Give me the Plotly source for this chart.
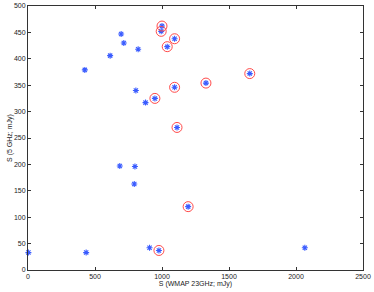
import plotly.graph_objects as go

# all sources: S(WMAP 23GHz) vs S(5 GHz)
x_all = [1000, 994, 1094, 1039, 1094, 947, 1112, 1328, 1655, 1195, 977,
         695, 715, 822, 613, 424, 805, 877, 685, 798, 793, 3, 434, 907, 2066]
y_all = [462, 452, 438, 423, 346, 325, 270, 354, 372, 120, 37,
         447, 430, 418, 406, 379, 340, 317, 197, 196, 163, 33, 33, 42, 42]
# circled subset
x_sel = [1000, 994, 1094, 1039, 1094, 947, 1112, 1328, 1655, 1195, 977]
y_sel = [462, 452, 438, 423, 346, 325, 270, 354, 372, 120, 37]

FONT = "Liberation Sans, Arial"

fig = go.Figure()
fig.add_trace(go.Scatter(x=x_all, y=y_all, mode="markers",
                         marker=dict(symbol="asterisk-open", size=5, color="#3a5cff",
                                     line=dict(width=1.1, color="#3a5cff")),
                         cliponaxis=False, showlegend=False))
fig.add_trace(go.Scatter(x=x_sel, y=y_sel, mode="markers",
                         marker=dict(symbol="circle-open", size=10, color="#ff4a4a",
                                     line=dict(width=1, color="#ff5050")),
                         cliponaxis=False, showlegend=False))

axis_common = dict(showgrid=False, zeroline=False, ticks="inside", ticklen=3,
                   tickwidth=1, tickcolor="#333", showline=True, linecolor="#333",
                   linewidth=1, mirror="ticks", automargin=False,
                   tickfont=dict(family=FONT, size=7, color="#222"))
fig.update_xaxes(range=[0, 2500], tickvals=[0, 500, 1000, 1500, 2000, 2500],
                 title=dict(text="S (WMAP 23GHz; mJy)", standoff=0,
                            font=dict(family=FONT, size=7, color="#222")),
                 **axis_common)
fig.update_yaxes(range=[0, 500], tickvals=[0, 50, 100, 150, 200, 250, 300, 350, 400, 450, 500],
                 title=dict(text="S (5 GHz; mJy)", standoff=0,
                            font=dict(family=FONT, size=7, color="#222")),
                 **axis_common)
fig.update_layout(width=374, height=292, paper_bgcolor="white", plot_bgcolor="white",
                  margin=dict(l=28, r=11, t=6, b=22))
fig.write_html("out.html", config={"displayModeBar": False},
               post_script="document.body.style.margin='0';document.body.style.overflow='hidden';")
